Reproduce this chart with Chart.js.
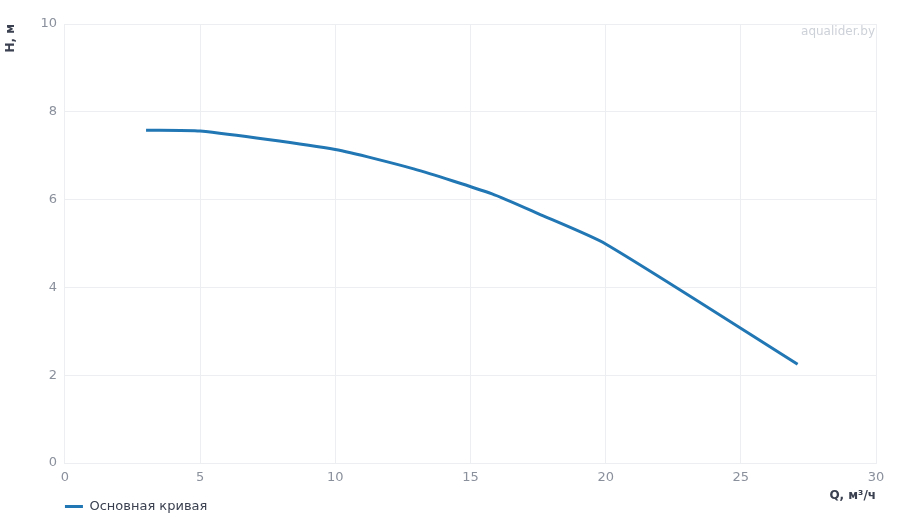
<!DOCTYPE html>
<html>
<head>
<meta charset="utf-8">
<script src="https://cdn.jsdelivr.net/npm/chart.js@4.4.1/dist/chart.umd.min.js"></script>
<style>
  html, body { margin: 0; padding: 0; background: #fff; }
  #wrap { width: 900px; height: 520px; }
</style>
</head>
<body>
<div id="wrap"><canvas id="canvas"></canvas></div>
<script>
// расход, м3/ч
var flowQ = [3, 5, 10, 12.9, 15.8, 17.5, 20, 27.1];
// напор, м
var headH = [7.58, 7.56, 7.14, 6.7, 6.13, 5.68, 4.99, 2.25];
var seriesName = 'Основная кривая';
var xTitle = 'Q, м³/ч';
var yTitle = 'H, м';
var watermark = 'aqualider.by';

var points = flowQ.map(function (q, i) { return { x: q, y: headH[i] }; });

var watermarkPlugin = {
	id: 'watermark',
	afterLayout: function (chart) {
		// легенда под левым краем графика
		var lg = chart.legend;
		if (lg) {
			var pad = lg.options.labels.padding;
			lg.left = chart.chartArea.left - pad;
			lg.top = chart.chartArea.bottom + 35;
		}
	},
	afterDraw: function (chart) {
		var a = chart.chartArea, ctx = chart.ctx;
		ctx.save();
		ctx.font = '12px "DejaVu Sans", sans-serif';
		ctx.fillStyle = '#cdd1d8';
		ctx.textAlign = 'right';
		ctx.textBaseline = 'top';
		ctx.fillText(watermark, a.right - 1, a.top + 2);
		ctx.restore();
	}
};

var config = {
	type: 'line',
	data: {
		datasets: [{
			label: seriesName,
			data: points,
			fill: false,
			borderColor: '#2176b4',
			backgroundColor: '#2176b4',
			borderWidth: 3,
			pointRadius: 0,
			pointStyle: 'line',
			tension: 0.2
		}]
	},
	options: {
		responsive: true,
		maintainAspectRatio: false,
		animation: false,
		layout: { padding: { top: 24, right: 24, left: 4, bottom: -8 } },
		plugins: {
			legend: {
				position: 'bottom',
				align: 'start',
				labels: {
					usePointStyle: true,
					pointStyle: 'line',
					pointStyleWidth: 18,
					boxWidth: 18,
					boxHeight: 13,
					color: '#3b4150',
					font: { family: '"DejaVu Sans", sans-serif', size: 13 },
					padding: 2
				}
			},
			tooltip: { enabled: false }
		},
		scales: {
			x: {
				type: 'linear',
				min: 0,
				max: 30,
				ticks: {
					stepSize: 5,
					color: '#8a909c',
					font: { family: '"DejaVu Sans", sans-serif', size: 13 },
					padding: 7
				},
				grid: { color: '#eceef2', tickLength: 0 },
				border: { color: '#eceef2' },
				title: {
					display: true,
					text: xTitle,
					align: 'end',
					color: '#3b4150',
					font: { family: '"DejaVu Sans", sans-serif', size: 12, weight: 'bold' },
					padding: { top: -4, bottom: 0 }
				}
			},
			y: {
				min: 0,
				max: 10,
				ticks: {
					stepSize: 2,
					color: '#8a909c',
					font: { family: '"DejaVu Sans", sans-serif', size: 13 },
					padding: 8
				},
				grid: { color: '#eceef2', tickLength: 0 },
				border: { color: '#eceef2' },
				title: {
					display: true,
					text: yTitle,
					align: 'end',
					color: '#3b4150',
					font: { family: '"DejaVu Sans", sans-serif', size: 12, weight: 'bold' },
					padding: { top: 0, bottom: 14 }
				}
			}
		}
	},
	plugins: [watermarkPlugin]
};

window.onload = function () {
	var ctx = document.getElementById('canvas').getContext('2d');
	window.myLine = new Chart(ctx, config);
};
</script>
</body>
</html>
